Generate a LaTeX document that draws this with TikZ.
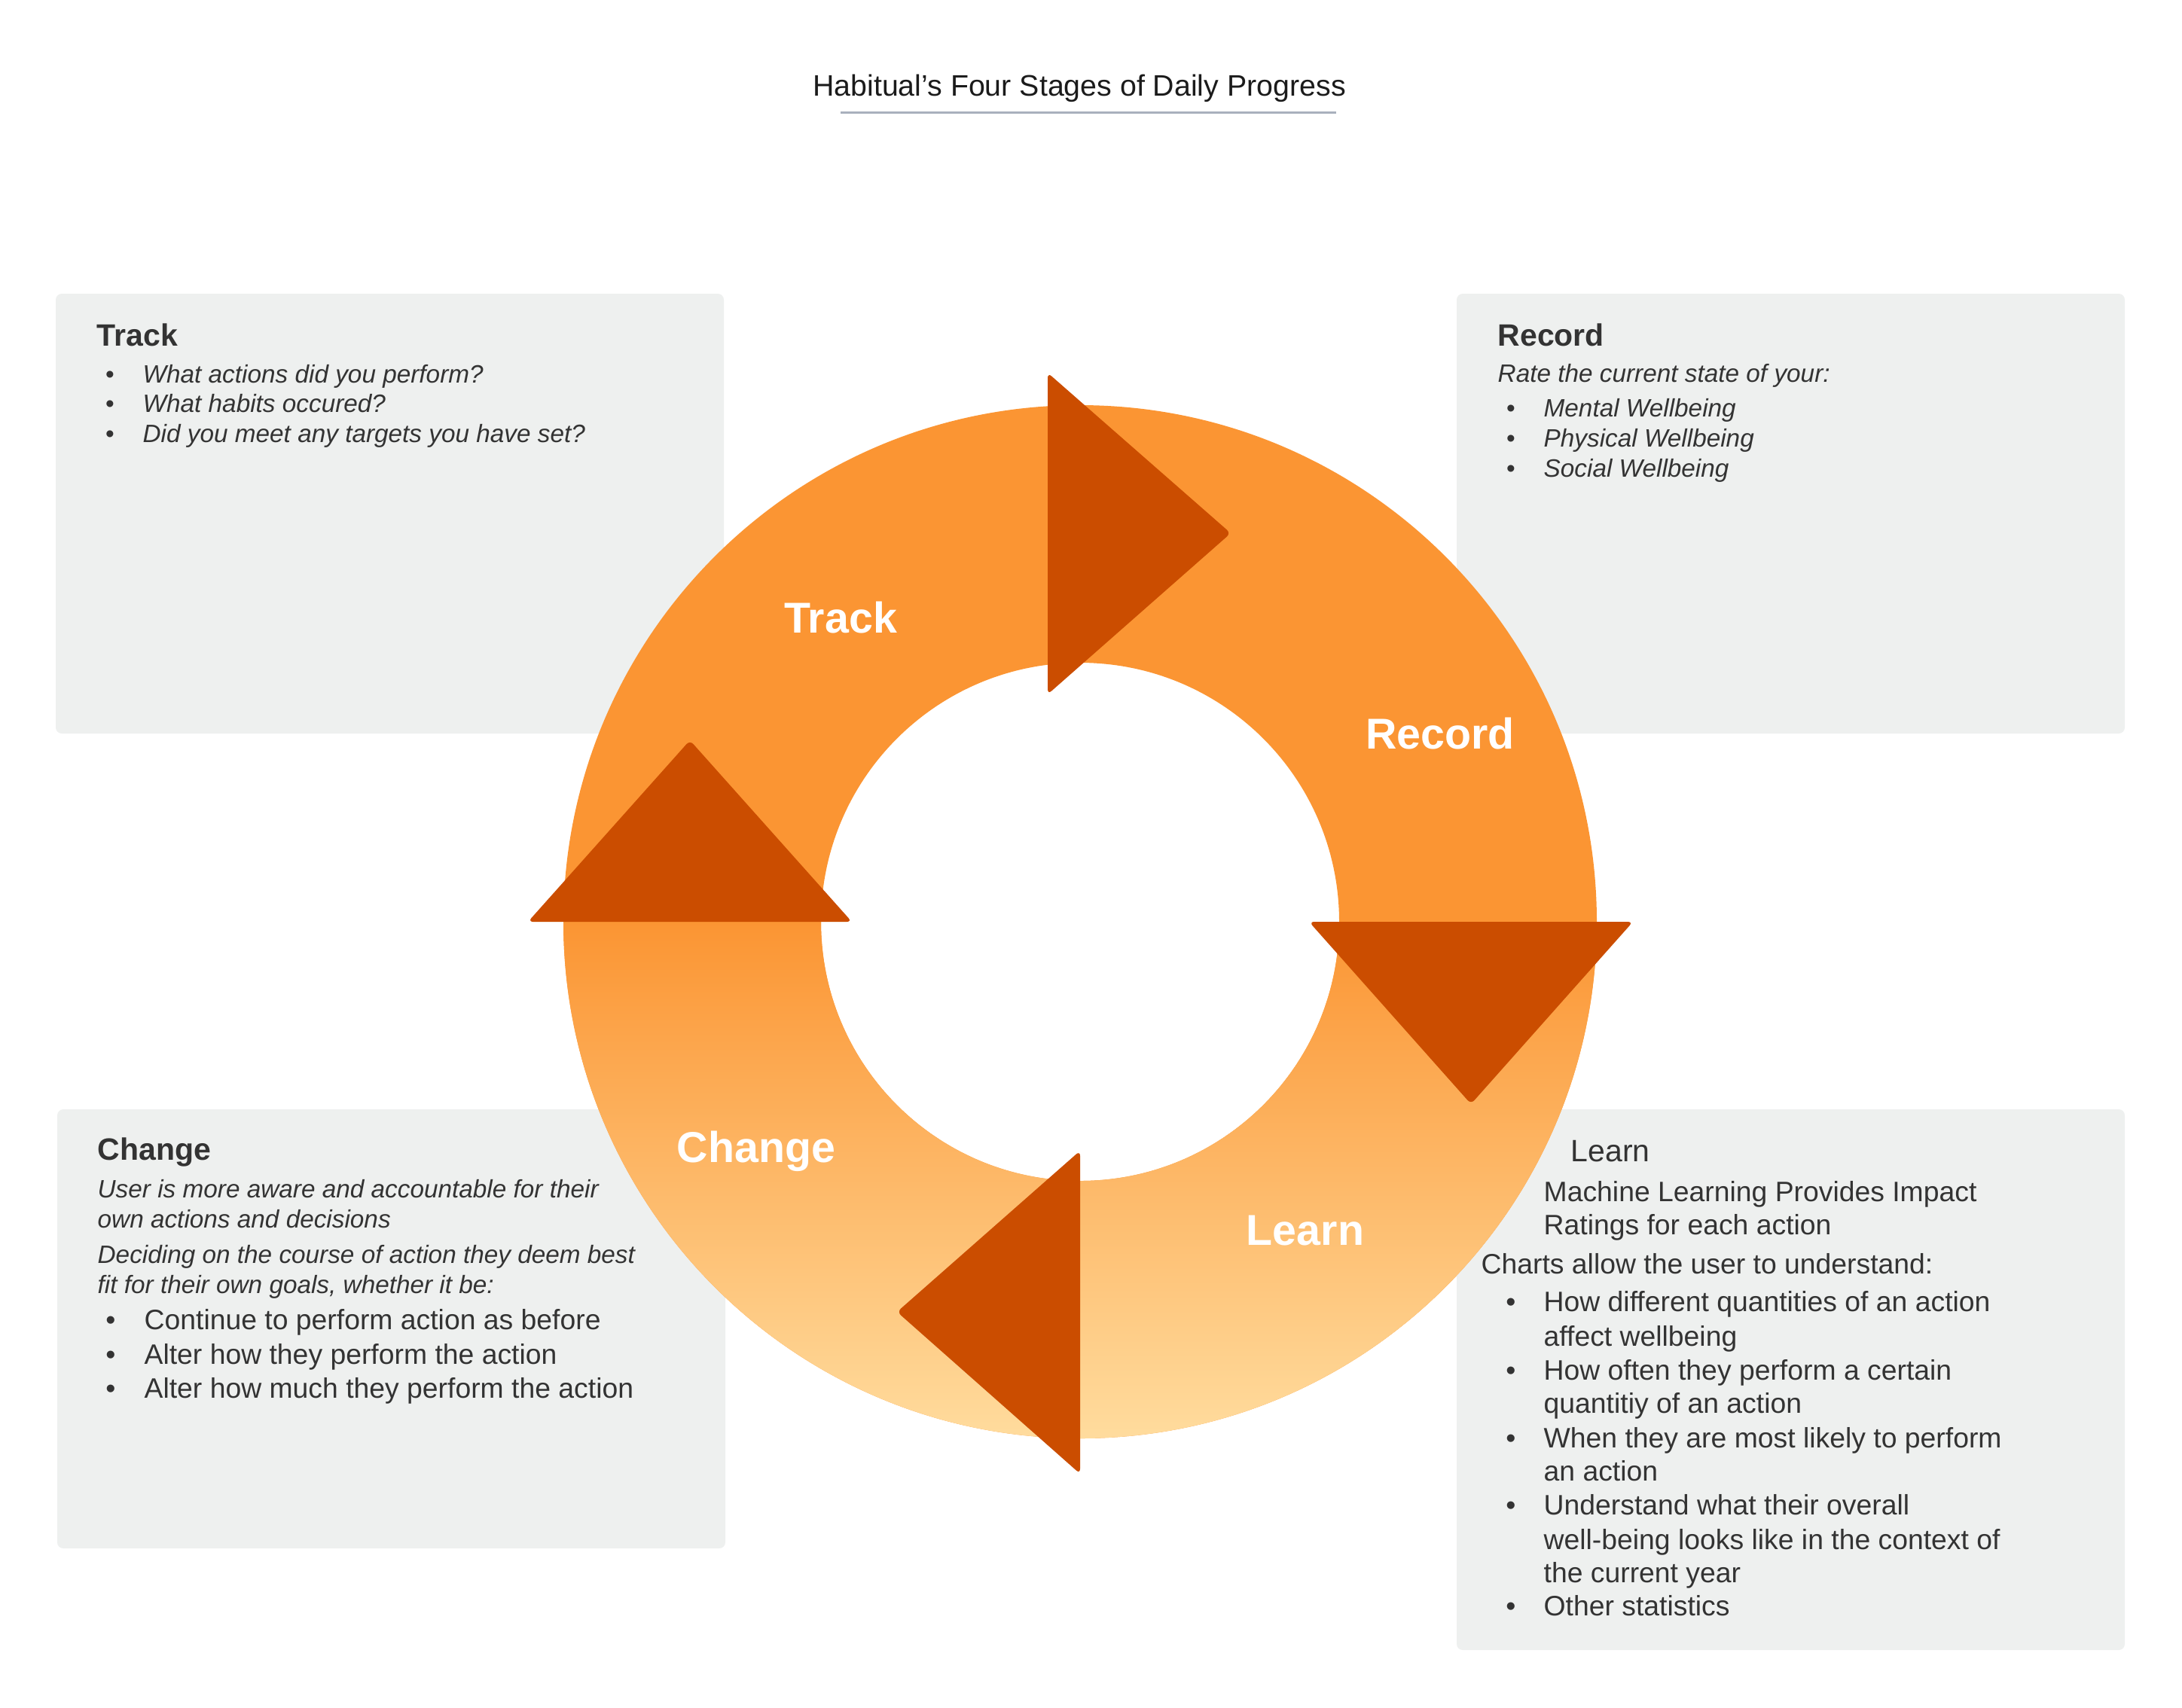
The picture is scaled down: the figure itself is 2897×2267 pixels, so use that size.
\documentclass[tikz,border=0pt]{standalone}
\usepackage{fontspec}
\setmainfont{Liberation Sans}
\definecolor{ringor}{HTML}{FB9533}
\definecolor{ringlt}{HTML}{FFDC9E}
\definecolor{tricol}{HTML}{CB4D00}
\definecolor{boxgray}{HTML}{EEF0EF}
\definecolor{textgray}{HTML}{333333}
\definecolor{ulcol}{HTML}{A9B0BD}
\definecolor{titlecol}{HTML}{1B1B1B}
\newcommand\fHead{\fontsize{12.3}{14}\selectfont\bfseries}
\newcommand\fHeadReg{\fontsize{12.3}{14}\selectfont}
\newcommand\fIt{\fontsize{10}{12}\selectfont\itshape}
\newcommand\fBody{\fontsize{11.2}{13.4}\selectfont}
\newcommand\fRing{\fontsize{17.2}{20}\selectfont\bfseries}
\newcommand\fTitle{\fontsize{11.8}{14}\selectfont}
\tikzset{
  txt/.style={anchor=base west, inner sep=0pt, text=textgray},
  bul/.style={anchor=base, inner sep=0pt, text=textgray},
  ringlabel/.style={anchor=base, inner sep=0pt, text=white, font=\fRing},
  infobox/.style={fill=boxgray, rounded corners=2.4pt},
  arrowtri/.style={fill=tricol, rounded corners=2pt},
}
\begin{document}
\begin{tikzpicture}[x=0.3pt,y=-0.3pt]
\useasboundingbox (0,0) rectangle (2897,2267);

% title
\node[anchor=base, inner sep=0pt, text=titlecol, font=\fTitle] (title) at (1433,127) {Habitual’s Four Stages of Daily Progress};
\coordinate (ulA) at (1116,149);
\coordinate (ulB) at (1774,149);
\draw[ulcol, line width=0.9pt] (ulA) -- (ulB);

% info boxes
\fill[infobox] (74,390) rectangle (961,974);
\fill[infobox] (1934,390) rectangle (2821,974);
\fill[infobox] (76,1473) rectangle (963,2056);
\fill[infobox] (1934,1473) rectangle (2821,2191);

% ring
\coordinate (c) at (1434,1224);
\fill[ringor, even odd rule] (c) circle[radius=205.8pt] (c) circle[radius=103.2pt];
\begin{scope}[even odd rule]
  \clip (c) circle[radius=205.8pt] (c) circle[radius=103.2pt];
  \shade[top color=ringor, bottom color=ringlt] (700,1224) rectangle (2170,1912);
\end{scope}

% arrow triangles
\fill[arrowtri] (1391,495) -- (1634,708) -- (1391,922) -- cycle;
\fill[arrowtri] (1738,1224) -- (2168,1224) -- (1953,1466) -- cycle;
\fill[arrowtri] (1434,1528) -- (1434,1957) -- (1191,1742) -- cycle;
\fill[arrowtri] (701,1224) -- (1131,1224) -- (916,983) -- cycle;

% ring labels
\node[ringlabel] (rTrack) at (1116,840) {Track};
\node[ringlabel] (rRecord) at (1912,994) {Record};
\node[ringlabel] (rChange) at (1004,1543) {Change};
\node[ringlabel] (rLearn) at (1733,1653) {Learn};

% Track box text
\node[txt, font=\fHead] (tkh) at (128,459) {Track};
\node[bul, font=\fIt\upshape] (tkb1) at (146,508) {•};
\node[txt, font=\fIt] (tk1) at (189,508) {What actions did you perform?};
\node[bul, font=\fIt\upshape] (tkb2) at (146,547) {•};
\node[txt, font=\fIt] (tk2) at (189,547) {What habits occured?};
\node[bul, font=\fIt\upshape] (tkb3) at (146,587) {•};
\node[txt, font=\fIt] (tk3) at (189,587) {Did you meet any targets you have set?};

% Record box text
\node[txt, font=\fHead] (rch) at (1988,459) {Record};
\node[txt, font=\fIt] (rc0) at (1988,507) {Rate the current state of your:};
\node[bul, font=\fIt\upshape] (rcb1) at (2006,553) {•};
\node[txt, font=\fIt] (rc1) at (2049,553) {Mental Wellbeing};
\node[bul, font=\fIt\upshape] (rcb2) at (2006,593) {•};
\node[txt, font=\fIt] (rc2) at (2049,593) {Physical Wellbeing};
\node[bul, font=\fIt\upshape] (rcb3) at (2006,633) {•};
\node[txt, font=\fIt] (rc3) at (2049,633) {Social Wellbeing};

% Change box text
\node[txt, font=\fHead] (chh) at (129,1540) {Change};
\node[txt, font=\fIt] (ch1) at (129,1590) {User is more aware and accountable for their};
\node[txt, font=\fIt] (ch2) at (129,1630) {own actions and decisions};
\node[txt, font=\fIt] (ch3) at (129,1677) {Deciding on the course of action they deem best};
\node[txt, font=\fIt] (ch4) at (129,1717) {fit for their own goals, whether it be:};
\node[bul, font=\fBody] (chb1) at (147,1765) {•};
\node[txt, font=\fBody] (ch5) at (191,1765) {Continue to perform action as before};
\node[bul, font=\fBody] (chb2) at (147,1811) {•};
\node[txt, font=\fBody] (ch6) at (191,1811) {Alter how they perform the action};
\node[bul, font=\fBody] (chb3) at (147,1856) {•};
\node[txt, font=\fBody] (ch7) at (191,1856) {Alter how much they perform the action};

% Learn box text
\node[txt, font=\fHeadReg] (lnh) at (2085,1542) {Learn};
\node[txt, font=\fBody] (ln1) at (2049,1595) {Machine Learning Provides Impact};
\node[txt, font=\fBody] (ln2) at (2049,1639) {Ratings for each action};
\node[txt, font=\fBody] (ln3) at (1966,1691) {Charts allow the user to understand:};
\node[bul, font=\fBody] (lnb1) at (2006,1741) {•};
\node[txt, font=\fBody] (ln4) at (2049,1741) {How different quantities of an action};
\node[txt, font=\fBody] (ln5) at (2049,1787) {affect wellbeing};
\node[bul, font=\fBody] (lnb2) at (2006,1832) {•};
\node[txt, font=\fBody] (ln6) at (2049,1832) {How often they perform a certain};
\node[txt, font=\fBody] (ln7) at (2049,1876) {quantitiy of an action};
\node[bul, font=\fBody] (lnb3) at (2006,1922) {•};
\node[txt, font=\fBody] (ln8) at (2049,1922) {When they are most likely to perform};
\node[txt, font=\fBody] (ln9) at (2049,1966) {an action};
\node[bul, font=\fBody] (lnb4) at (2006,2011) {•};
\node[txt, font=\fBody] (ln10) at (2049,2011) {Understand what their overall};
\node[txt, font=\fBody] (ln11) at (2049,2057) {well-being looks like in the context of};
\node[txt, font=\fBody] (ln12) at (2049,2101) {the current year};
\node[bul, font=\fBody] (lnb5) at (2006,2145) {•};
\node[txt, font=\fBody] (ln13) at (2049,2145) {Other statistics};
\end{tikzpicture}
\end{document}
